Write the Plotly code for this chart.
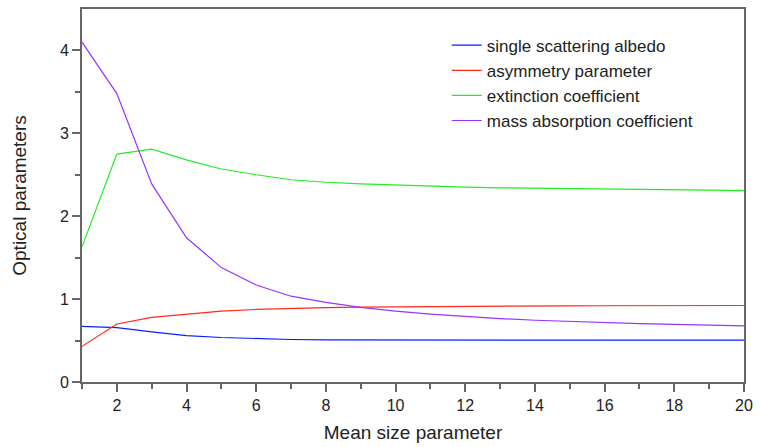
import plotly.graph_objects as go

x = list(range(1, 21))
albedo = [0.67, 0.655, 0.605, 0.56, 0.537, 0.522, 0.513, 0.509, 0.507, 0.506,
          0.505, 0.505, 0.505, 0.505, 0.505, 0.505, 0.505, 0.505, 0.505, 0.505]
asym = [0.43, 0.70, 0.78, 0.82, 0.855, 0.875, 0.89, 0.898, 0.903, 0.907,
        0.91, 0.913, 0.915, 0.917, 0.919, 0.92, 0.921, 0.922, 0.923, 0.923]
ext = [1.63, 2.75, 2.81, 2.68, 2.57, 2.50, 2.44, 2.41, 2.39, 2.375,
       2.36, 2.35, 2.343, 2.337, 2.332, 2.327, 2.322, 2.318, 2.314, 2.31]
mac = [4.10, 3.48, 2.39, 1.74, 1.38, 1.17, 1.035, 0.96, 0.90, 0.855,
       0.82, 0.79, 0.765, 0.745, 0.73, 0.715, 0.705, 0.695, 0.687, 0.678]

names = ["single scattering albedo", "asymmetry parameter",
         "extinction coefficient", "mass absorption coefficient"]
colors = ["#0a1fff", "#ff2a1a", "#22ee22", "#9933ff"]

fig = go.Figure()
for ys, n, c in zip([albedo, asym, ext, mac], names, colors):
    fig.add_trace(go.Scatter(x=x, y=ys, name=n, mode="lines",
                             line=dict(color=c, width=1.2)))

font = "Liberation Sans, Arial, Helvetica, sans-serif"
fig.update_layout(
    width=760, height=447,
    margin=dict(l=82, r=10, t=7, b=63),
    paper_bgcolor="white", plot_bgcolor="white",
    font=dict(family=font, size=16, color="#222"),
    showlegend=True,
    legend=dict(x=0.551, y=0.95, xanchor="left", yanchor="top",
                bgcolor="rgba(0,0,0,0)", font=dict(size=17),
                itemwidth=30, tracegroupgap=0),
    xaxis=dict(range=[1, 20], tickvals=[2, 4, 6, 8, 10, 12, 14, 16, 18, 20],
               ticks="outside", ticklen=8, tickwidth=1.5, tickcolor="#666",
               showline=True, linecolor="#666", linewidth=2, mirror=True,
               showgrid=False, zeroline=False,
               minor=dict(tickvals=list(range(1, 21, 2)), ticks="outside",
                          ticklen=5, tickwidth=1.5, tickcolor="#666"),
               title=dict(text="Mean size parameter", standoff=12)),
    yaxis=dict(range=[0, 4.5], tickvals=[0, 1, 2, 3, 4],
               ticks="outside", ticklen=8, tickwidth=1.5, tickcolor="#666",
               showline=True, linecolor="#666", linewidth=2, mirror=True,
               showgrid=False, zeroline=False,
               minor=dict(tickvals=[0.5, 1.5, 2.5, 3.5], ticks="outside",
                          ticklen=5, tickwidth=1.5, tickcolor="#666"),
               title=dict(text="Optical parameters", standoff=28)),
)

fig.write_html("out.html", config={"displayModeBar": False},
               post_script="document.body.style.margin='0';document.body.style.overflow='hidden';")
